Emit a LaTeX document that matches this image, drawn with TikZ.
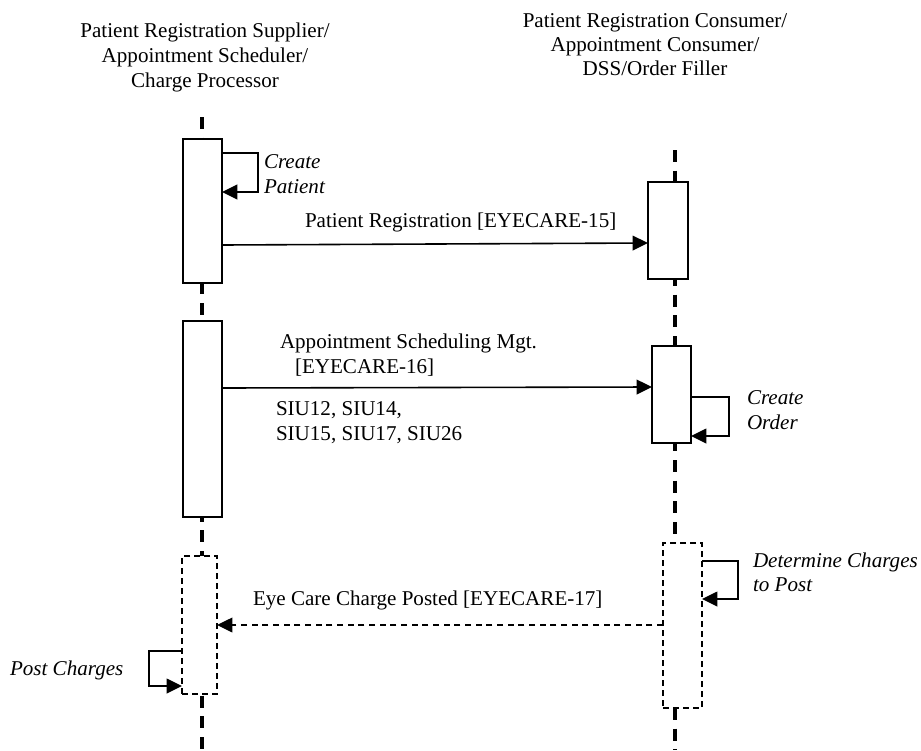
\documentclass[tikz,border=0pt]{standalone}
\usepackage{fontspec}
\setmainfont{Liberation Serif}
\usetikzlibrary{arrows.meta,fit}
\begin{document}
\begin{tikzpicture}[x=0.75pt,y=-0.75pt,
  txt/.style={inner sep=0pt,outer sep=0pt,anchor=base west,font=\fontsize{15.8}{19}\selectfont},
  ctxt/.style={txt,anchor=base},
  itxt/.style={txt,font=\fontsize{15.8}{19}\selectfont\itshape},
  lifeline/.style={line width=2.4pt,dash pattern=on 9pt off 6.5pt},
  actbox/.style={draw,line width=1.2pt,fill=white,inner sep=0pt,outer sep=0pt},
  dactbox/.style={draw,line width=1pt,fill=white,inner sep=0pt,outer sep=0pt,dash pattern=on 4.5pt off 3pt},
  msg/.style={line width=1.2pt,-{Triangle[length=11.5pt,width=11pt]}},
  dmsg/.style={line width=1.1pt,dash pattern=on 4.5pt off 3.5pt,-{Triangle[length=11.5pt,width=11pt]}},
  selfarr/.style={line width=1.2pt,-{Triangle[length=11.5pt,width=11pt]}}]
\useasboundingbox (0,0) rectangle (921,750);
% headers
\node[ctxt] (hl1) at (205,37) {Patient Registration Supplier/};
\node[ctxt] (hl2) at (205,62) {Appointment Scheduler/};
\node[ctxt] (hl3) at (205,87) {Charge Processor};
\node[ctxt] (hr1) at (655,27) {Patient Registration Consumer/};
\node[ctxt] (hr2) at (655,51) {Appointment Consumer/};
\node[ctxt] (hr3) at (655,75) {DSS/Order Filler};
% lifelines
\coordinate (lt) at (202,117);
\coordinate (lb) at (202,750);
\coordinate (rt) at (675,150);
\coordinate (rb) at (675,750);
\draw[lifeline] (lt) -- (lb);
\draw[lifeline] (rt) -- (rb);
% activation boxes
\node[actbox,fit={(183,139) (222,283)}] (b1) {};
\node[actbox,fit={(183,321) (222,517)}] (b2) {};
\node[dactbox,fit={(182,556) (217,694)}] (b3) {};
\node[actbox,fit={(648,182) (688,279)}] (r1) {};
\node[actbox,fit={(652,346) (691,443)}] (r2) {};
\node[dactbox,fit={(663,543) (702,708)}] (r3) {};
% self messages
\draw[selfarr] (b1.east |- 0,153) -- (258,153) -- (258,192) -- (b1.east |- 0,192);
\node[itxt] (cp1) at (264,168) {Create};
\node[itxt] (cp2) at (264,193) {Patient};
\draw[selfarr] (r2.east |- 0,397) -- (729,397) -- (729,436) -- (r2.east |- 0,436);
\node[itxt] (co1) at (747,404) {Create};
\node[itxt] (co2) at (747,429) {Order};
\draw[selfarr] (r3.east |- 0,561) -- (738,561) -- (738,599) -- (r3.east |- 0,599);
\node[itxt] (dc1) at (753,567) {Determine Charges};
\node[itxt] (dc2) at (753,591) {to Post};
\draw[selfarr] (b3.west |- 0,651) -- (149,651) -- (149,686) -- (b3.west |- 0,686);
\node[itxt] (pc) at (10,675) {Post Charges};
% messages
\draw[msg] (b1.east |- 0,245) -- (r1.west |- 0,243);
\node[txt] (m1) at (305,227) {Patient Registration [EYECARE-15]};
\draw[msg] (b2.east |- 0,388) -- (r2.west |- 0,387);
\node[txt] (m2a) at (280,348) {Appointment Scheduling Mgt.};
\node[txt] (m2b) at (295,373) {[EYECARE-16]};
\node[txt] (m2c) at (276,415) {SIU12, SIU14,};
\node[txt] (m2d) at (276,440) {SIU15, SIU17, SIU26};
\draw[dmsg] (r3.west |- 0,625) -- (b3.east |- 0,625);
\node[txt] (m3) at (253,605) {Eye Care Charge Posted [EYECARE-17]};
\end{tikzpicture}
\end{document}
